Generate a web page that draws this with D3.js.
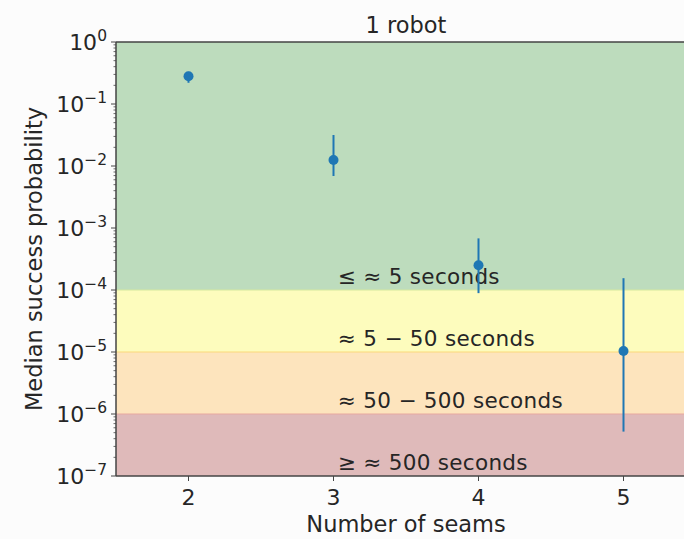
<!DOCTYPE html>
<html><head><meta charset="utf-8">
<script src="https://cdn.jsdelivr.net/npm/d3@7"></script>
<style>body{margin:0;background:#fcfcfc}svg{display:block}text{font-family:"DejaVu Sans",sans-serif;fill:#262626}</style>
</head><body><svg id="c" width="684" height="539"></svg>
<script>
const seams = [2, 3, 4, 5];
const median = [0.28, 0.0125, 2.5e-4, 1.04e-5];
const errLow = [0.22, 0.0069, 8.9e-5, 5.2e-7];
const errHigh = [0.33, 0.0316, 6.8e-4, 1.55e-4];
const xTicks = [2, 3, 4, 5];
const yTickExps = [0, -1, -2, -3, -4, -5, -6, -7];
const bandLow = [1e-4, 1e-5, 1e-6, 1e-7];
const bandHigh = [1, 1e-4, 1e-5, 1e-6];
const bandLabels = ["≤ ≈ 5 seconds", "≈ 5 − 50 seconds", "≈ 50 − 500 seconds", "≥ ≈ 500 seconds"];
const bandFill = ["#bddcbd", "#fdfcbd", "#fde4bd", "#dfbaba"];
const bandEdge = ["#d6e8a0", "#fbd87a", "#e8a8a0", "#d0a0a0"];

const svg = d3.select("#c");
const L = 116, R = 696, T = 42, B = 476;
const x = d3.scaleLinear().domain([1.5, 5.5]).range([L, R]);
const y = d3.scaleLog().domain([1e-7, 1]).range([B, T]);

svg.append("rect").attr("width", 684).attr("height", 539).attr("fill", "#fcfcfc");

const g = svg.append("g");
g.selectAll("rect.band").data(bandLow).enter().append("rect")
  .attr("x", L).attr("width", R - L)
  .attr("y", (d, i) => y(bandHigh[i]))
  .attr("height", (d, i) => y(d) - y(bandHigh[i]))
  .attr("fill", (d, i) => bandFill[i]);
g.selectAll("line.edge").data(bandLow.slice(0, 3)).enter().append("line")
  .attr("x1", L).attr("x2", R).attr("y1", d => y(d)).attr("y2", d => y(d))
  .attr("stroke", (d, i) => bandEdge[i]).attr("stroke-width", 1.2);

g.selectAll("text.bl").data(bandLabels).enter().append("text")
  .attr("x", x(3.03)).attr("y", (d, i) => y(bandLow[i]) - 6)
  .attr("font-size", 21.5).attr("letter-spacing", 0.3).text(d => d);

const c = "#1f77b4";
g.selectAll("line.err").data(seams).enter().append("line")
  .attr("x1", d => x(d)).attr("x2", d => x(d))
  .attr("y1", (d, i) => y(errLow[i])).attr("y2", (d, i) => y(errHigh[i]))
  .attr("stroke", c).attr("stroke-width", 2);
g.selectAll("circle").data(seams).enter().append("circle")
  .attr("cx", d => x(d)).attr("cy", (d, i) => y(median[i])).attr("r", 5).attr("fill", c);

const axCol = "#444";
const minor = [];
for (let e = -7; e < 0; e++) for (let m = 2; m <= 9; m++) minor.push(m * Math.pow(10, e));
svg.selectAll("line.minor").data(minor).enter().append("line")
  .attr("x1", L - 2.5).attr("x2", L).attr("y1", d => y(d)).attr("y2", d => y(d))
  .attr("stroke", axCol).attr("stroke-width", 0.8);
svg.selectAll("line.ymaj").data(yTickExps).enter().append("line")
  .attr("x1", L - 5).attr("x2", L).attr("y1", d => y(Math.pow(10, d))).attr("y2", d => y(Math.pow(10, d)))
  .attr("stroke", axCol).attr("stroke-width", 1);
const yl = svg.selectAll("text.ytl").data(yTickExps).enter().append("text")
  .attr("x", L - 9).attr("y", d => y(Math.pow(10, d)) + 8)
  .attr("text-anchor", "end").attr("font-size", 22);
yl.append("tspan").text("10");
yl.append("tspan").attr("dy", -9).attr("font-size", 15.5).text(d => d === 0 ? "0" : "−" + (-d));

svg.selectAll("line.xmaj").data(xTicks).enter().append("line")
  .attr("x1", d => x(d)).attr("x2", d => x(d)).attr("y1", B).attr("y2", B + 5)
  .attr("stroke", axCol).attr("stroke-width", 1);
svg.selectAll("text.xtl").data(xTicks).enter().append("text")
  .attr("x", d => x(d)).attr("y", B + 29).attr("text-anchor", "middle").attr("font-size", 22).text(d => d);

svg.append("line").attr("x1", L).attr("x2", L).attr("y1", T).attr("y2", B).attr("stroke", axCol).attr("stroke-width", 1.5);
svg.append("line").attr("x1", L).attr("x2", R).attr("y1", B).attr("y2", B).attr("stroke", axCol).attr("stroke-width", 1.5);
svg.append("line").attr("x1", L).attr("x2", R).attr("y1", T).attr("y2", T).attr("stroke", axCol).attr("stroke-width", 1.5);

svg.append("text").attr("x", (L + R) / 2).attr("y", 33).attr("text-anchor", "middle").attr("font-size", 22.5).text("1 robot");
svg.append("text").attr("x", x(3.5)).attr("y", 532).attr("text-anchor", "middle").attr("font-size", 22.5).text("Number of seams");
svg.append("text").attr("transform", `translate(42,${(T + B) / 2}) rotate(-90)`).attr("text-anchor", "middle").attr("font-size", 22.5).text("Median success probability");
</script></body></html>
